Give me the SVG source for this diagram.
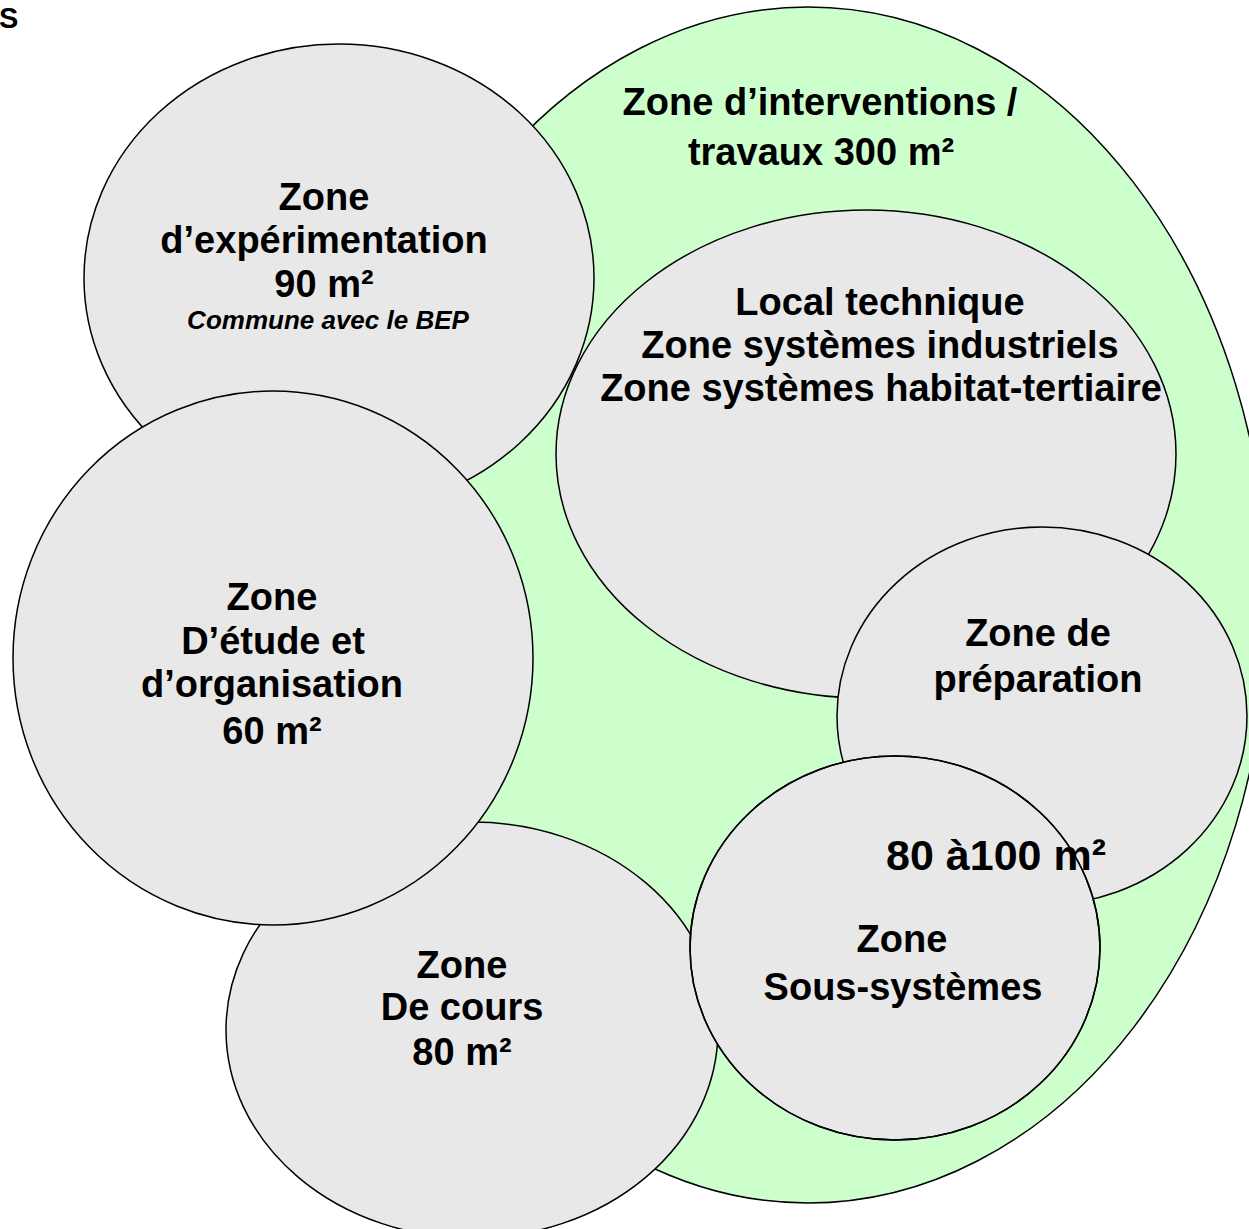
<svg xmlns="http://www.w3.org/2000/svg" width="1249" height="1229" viewBox="0 0 1249 1229">
<style>
.zone{fill:#e8e8e8;stroke:#000;stroke-width:1.5}
.green{fill:#ccffcc;stroke:#000;stroke-width:1.5}
.outline{fill:none;stroke:#000;stroke-width:1.5}
text{font-family:"Liberation Sans",Arial,sans-serif;font-weight:bold;fill:#000;text-anchor:middle}
.t{font-size:38px}
.big{font-size:43px}
.it{font-size:26px;font-style:italic}
</style>
<rect width="1249" height="1229" fill="#fff"/>
<text x="-1" y="28" style="font-size:29px;text-anchor:start">S</text>

<g id="zone-interventions">
<ellipse class="green" cx="808" cy="605" rx="460" ry="598"/>
<text class="t" x="820" y="115">Zone d’interventions /</text>
<text class="t" x="821" y="165">travaux 300 m²</text>
</g>

<g id="zone-experimentation">
<ellipse class="zone" cx="339" cy="278" rx="255" ry="234"/>
<text class="t" x="324" y="210">Zone</text>
<text class="t" x="324" y="253">d’expérimentation</text>
<text class="t" x="324" y="297">90 m²</text>
<text class="it" x="328" y="329">Commune avec le BEP</text>
</g>

<g id="local-technique">
<ellipse class="zone" cx="866" cy="454" rx="310" ry="244"/>
<text class="t" x="880" y="315">Local technique</text>
<text class="t" x="880" y="358">Zone systèmes industriels</text>
<text class="t" x="881" y="401">Zone systèmes habitat-tertiaire</text>
</g>

<g id="zone-cours">
<ellipse class="zone" cx="472" cy="1030" rx="246" ry="208"/>
<text class="t" x="462" y="978">Zone</text>
<text class="t" x="462" y="1020">De cours</text>
<text class="t" x="462" y="1065">80 m²</text>
</g>

<g id="zone-etude">
<ellipse class="zone" cx="273" cy="658" rx="260" ry="267"/>
<text class="t" x="272" y="610">Zone</text>
<text class="t" x="273" y="654">D’étude et</text>
<text class="t" x="272" y="697">d’organisation</text>
<text class="t" x="272" y="744">60 m²</text>
</g>

<g id="zone-preparation">
<ellipse class="zone" cx="1042" cy="716" rx="205" ry="189"/>
<text class="t" x="1038" y="646">Zone de</text>
<text class="t" x="1038" y="692">préparation</text>
</g>

<g id="zone-sous-systemes">
<ellipse class="zone" cx="895" cy="948" rx="205" ry="192"/>
<text class="t" x="902" y="952">Zone</text>
<text class="t" x="903" y="1000">Sous-systèmes</text>
</g>

<g id="surface-preparation-sous-systemes">
<text class="big" x="996" y="870">80 à100 m²</text>
<ellipse class="outline" cx="895" cy="948" rx="205" ry="192"/>
</g>

<g id="connectors"></g>
</svg>
